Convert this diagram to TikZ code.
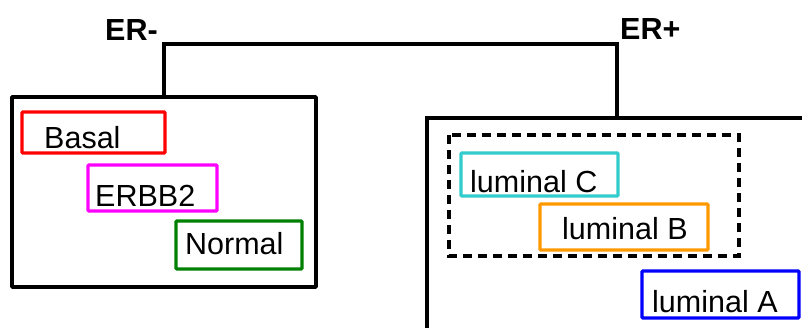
\documentclass[tikz,border=0pt]{standalone}
\usepackage{fontspec}
\setmainfont{Liberation Sans}
\definecolor{lumC}{RGB}{51,204,204}
\definecolor{lumB}{RGB}{255,153,0}
\definecolor{normalgreen}{RGB}{0,128,0}
\definecolor{erbbpink}{RGB}{255,0,255}
\definecolor{basalred}{RGB}{255,0,0}
\definecolor{lumAblue}{RGB}{0,0,255}
\begin{document}
\begin{tikzpicture}[x=1pt,y=-1pt,
  lbl/.style={anchor=base west,inner sep=0pt,font=\fontsize{30.5}{34}\selectfont},
  hdr/.style={lbl,font=\fontsize{30.5}{34}\selectfont\bfseries},
  group/.style={draw,line width=3.8pt,line join=round},
  subtype/.style={draw=#1,line width=3.4pt,rounded corners=1pt,inner sep=0pt},
  branch/.style={line width=3.4pt,line join=miter}]
\useasboundingbox (0,0) rectangle (802,327);
\clip (0,0) rectangle (802,327);

% ER- group
\node[group,inner sep=0pt,minimum width=304pt,minimum height=190pt] (erneg) at (164,192) {};
\node[subtype=basalred,minimum width=143pt,minimum height=41pt] (basalbox) at (93.5,132.5) {};
\node[lbl] (basal) at (44,148) {Basal};
\node[subtype=erbbpink,minimum width=129pt,minimum height=46pt] (erbbbox) at (152.5,188) {};
\node[lbl] (erbb) at (95,206) {ERBB2};
\node[subtype=normalgreen,minimum width=126pt,minimum height=48pt] (normalbox) at (239,245) {};
\node[lbl] (normal) at (185,254) {Normal};

% ER+ group (open to the right and bottom)
\coordinate (erposcorner) at (427,118);
\draw[group,line join=miter] (427,340) -- (erposcorner) -- (815,118);
\draw[line width=3.2pt,dash pattern=on 9pt off 6pt] (449,135) rectangle (739,256);
\node[subtype=lumC,minimum width=157pt,minimum height=43pt] (lumCbox) at (539.5,174.5) {};
\node[lbl] (lumCtxt) at (470,192) {luminal C};
\node[subtype=lumB,minimum width=168pt,minimum height=46pt] (lumBbox) at (624,227) {};
\node[lbl] (lumBtxt) at (562,239) {luminal B};
\node[subtype=lumAblue,minimum width=157pt,minimum height=47pt] (lumAbox) at (720.5,294.5) {};
\node[lbl] (lumAtxt) at (652,312) {luminal A};

% Headers and the branching connector
\node[hdr] (ernegtxt) at (105,40) {ER-};
\node[hdr] (erpostxt) at (620,39) {ER+};
\coordinate (negroot) at (erneg.north);
\coordinate (posroot) at (617,118);
\coordinate (split) at (617,44);
\draw[branch] (negroot) |- (split) -- (posroot);
\end{tikzpicture}
\end{document}
